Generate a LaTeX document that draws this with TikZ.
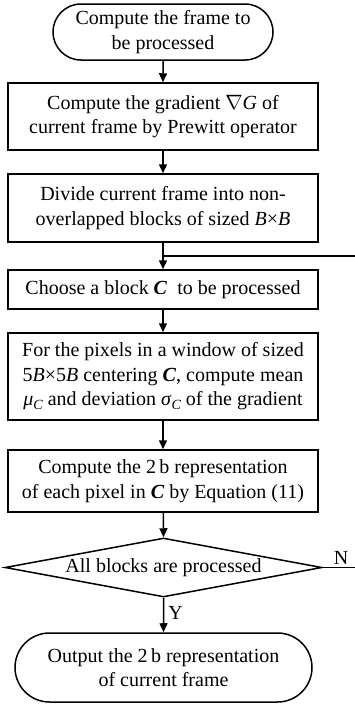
\documentclass[tikz,border=0pt]{standalone}
\usepackage{fontspec}
\setmainfont{Liberation Serif}
\usetikzlibrary{shapes.misc,shapes.geometric,arrows.meta}
\newcommand{\bC}{\textbf{\textit{C}}}
\newcommand{\subC}{\raisebox{-0.35ex}{\fontsize{14}{14}\selectfont\itshape C}}
\begin{document}
\begin{tikzpicture}[x=1pt,y=-1pt,
  every node/.style={font=\fontsize{20}{24.5}\selectfont, align=center, inner sep=0pt},
  proc/.style={draw, line width=1.5pt, minimum width=310pt},
  term/.style={draw, line width=1.5pt, rounded rectangle},
  dec/.style={draw, line width=1.5pt, diamond, aspect=5.37, minimum width=317pt, minimum height=59pt},
  flow/.style={line width=1.5pt, -{Triangle[length=9pt,width=8pt]}},
  plain/.style={line width=1.5pt}]
\useasboundingbox (0,0) rectangle (355,704);
\node[term, minimum width=220pt, minimum height=56pt] (t1) at (163,32) {Compute the frame to\\be processed};
\node[proc, minimum height=67pt] (b2) at (163,116.5) {Compute the gradient $\nabla$\textit{G} of\\current frame by Prewitt operator};
\node[proc, minimum height=68pt] (b3) at (163,208) {Divide current frame into non-\\overlapped blocks of sized \textit{B}×\textit{B}};
\node[proc, minimum height=39pt] (b4) at (163,289.5) {Choose a block \bC\ \ to be processed};
\node[proc, minimum height=87pt] (b5) at (163,376.5) {For the pixels in a window of sized\\5\textit{B}×5\textit{B} centering \bC, compute mean\\\textit{μ}\subC\ and deviation \textit{σ}\subC\ of the gradient};
\node[proc, minimum height=62pt] (b6) at (163,481) {Compute the 2\,b representation\\of each pixel in \bC\ by Equation (11)};
\node[dec] (d) at (163.5,567.5) {All blocks are processed};
\node[term, minimum width=297pt, minimum height=69pt] (t2) at (163.5,667.5) {Output the 2\,b representation\\of current frame};
\coordinate (j) at (163,256);
\coordinate (jr) at (356,256);
\coordinate (nr) at (356,567.5);
\draw[flow] (t1) -- (b2);
\draw[flow] (b2) -- (b3);
\draw[flow] (b3) -- (b4);
\draw[plain] (j) -- (jr);
\draw[flow] (b4) -- (b5);
\draw[flow] (b5) -- (b6);
\draw[flow] (b6) -- (d.north);
\draw[flow] (d.south) -- node[right=4pt, pos=0.45] {Y} (t2);
\draw[plain] (d.east) -- node[above=2pt, pos=0.55] {N} (nr);
\end{tikzpicture}
\end{document}
